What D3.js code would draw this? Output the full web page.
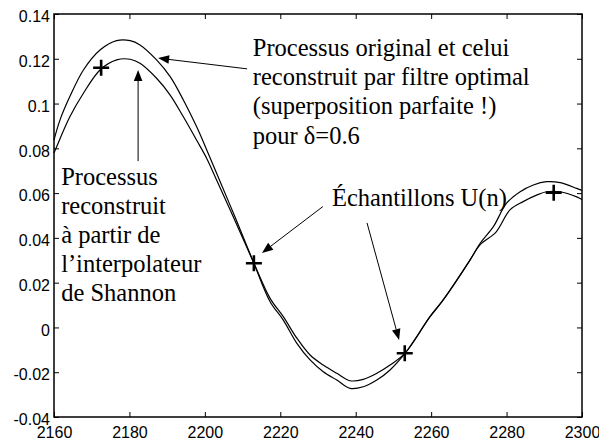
<!DOCTYPE html>
<html>
<head>
<meta charset="utf-8">
<script src="https://cdn.jsdelivr.net/npm/d3@7"></script>
<style>
  html, body { margin: 0; padding: 0; background: #fff; }
  svg { display: block; }
</style>
</head>
<body>
<svg id="chart" width="599" height="441"></svg>
<script>
// Axis ticks
const xTicks = [2160, 2180, 2200, 2220, 2240, 2260, 2280, 2300];
const yTicks = [-0.04, -0.02, 0, 0.02, 0.04, 0.06, 0.08, 0.1, 0.12, 0.14];
const yTickLabels = ["-0.04", "-0.02", "0", "0.02", "0.04", "0.06", "0.08", "0.1", "0.12", "0.14"];

// Original process (and optimal-filter reconstruction, which overlaps it)
const origX = [2160, 2161.6, 2164.2, 2167.8, 2172.2, 2176.6, 2180.2, 2182.8, 2187.2, 2190.8,
               2194.3, 2197.8, 2200.5, 2203.2, 2208.0, 2213.0, 2217.3, 2220.8, 2224.4, 2227.9,
               2231.4, 2235.0, 2238.5, 2242.0, 2245.6, 2249.1, 2253.1, 2259.7, 2263.2, 2270.3,
               2273.0, 2276.5, 2280.0, 2283.6, 2287.1, 2290.6, 2294.2, 2298.6, 2300];
const origY = [0.0837, 0.0927, 0.1031, 0.1150, 0.1239, 0.1281, 0.1281, 0.1262, 0.1195, 0.1120,
               0.1016, 0.0897, 0.0793, 0.0685, 0.0493, 0.0287, 0.0115, 0.0033, -0.0071, -0.0145,
               -0.0198, -0.0235, -0.0272, -0.0265, -0.0235, -0.0190, -0.0115, 0.0048, 0.0123, 0.0301,
               0.0376, 0.0450, 0.0555, 0.0606, 0.0636, 0.0651, 0.0647, 0.0621, 0.0612];

// Reconstruction from the Shannon interpolator
const shanX = [2160, 2160.7, 2164.2, 2167.8, 2172.2, 2176.6, 2180.2, 2182.8, 2187.2, 2190.8,
               2194.3, 2197.8, 2200.5, 2203.2, 2208.0, 2213.0, 2217.3, 2220.8, 2224.4, 2227.9,
               2231.4, 2235.0, 2238.5, 2242.0, 2245.6, 2249.1, 2253.1, 2259.7, 2263.2, 2270.3,
               2273.0, 2277.2, 2280.9, 2284.4, 2288.1, 2290.6, 2294.2, 2298.6, 2300];
const shanY = [0.0779, 0.0807, 0.0941, 0.1046, 0.1150, 0.1195, 0.1198, 0.1180, 0.1113, 0.1038,
               0.0941, 0.0837, 0.0755, 0.0655, 0.0477, 0.0287, 0.0130, 0.0048, -0.0048, -0.0123,
               -0.0168, -0.0205, -0.0238, -0.0232, -0.0205, -0.0168, -0.0115, 0.0048, 0.0123, 0.0301,
               0.0370, 0.0426, 0.0525, 0.0562, 0.0592, 0.0606, 0.0606, 0.0583, 0.0571];

// Samples U(n)
const sampleX = [2172.5, 2213, 2253, 2292.5];
const sampleY = [0.116, 0.0287, -0.0115, 0.0602];

const SANS = '"Liberation Sans", monospace';
const SERIF = '"Liberation Serif", monospace';

const svg = d3.select("#chart");
const margin = { left: 54, right: 17, top: 14, bottom: 24 };
const W = 599, H = 441;

const x = d3.scaleLinear().domain([2160, 2300]).range([margin.left, W - margin.right]);
const y = d3.scaleLinear().domain([-0.04, 0.14]).range([H - margin.bottom, margin.top]);

// Axes with inward ticks on all four sides
const tickLen = 5;
const gx = svg.append("g").attr("transform", `translate(0,${y.range()[0]})`)
  .call(d3.axisBottom(x).tickValues(xTicks).tickFormat(d3.format("d")).tickSizeInner(-tickLen).tickSizeOuter(0).tickPadding(9.5));
const gxt = svg.append("g").attr("transform", `translate(0,${y.range()[1]})`)
  .call(d3.axisTop(x).tickValues(xTicks).tickFormat("").tickSizeInner(-tickLen).tickSizeOuter(0));
const gy = svg.append("g").attr("transform", `translate(${x.range()[0]},0)`)
  .call(d3.axisLeft(y).tickValues(yTicks).tickFormat((d, i) => yTickLabels[i]).tickSizeInner(-tickLen).tickSizeOuter(0).tickPadding(4));
const gyr = svg.append("g").attr("transform", `translate(${x.range()[1]},0)`)
  .call(d3.axisRight(y).tickValues(yTicks).tickFormat("").tickSizeInner(-tickLen).tickSizeOuter(0));

[gx, gxt, gy, gyr].forEach(g => {
  g.attr("font-family", null).attr("font-size", null);
  g.select(".domain").remove();
  g.selectAll(".tick line").attr("stroke", "#000").attr("stroke-width", 1);
  g.selectAll(".tick text").attr("fill", "#000").attr("font-family", SANS).attr("font-size", 16);
});
gy.selectAll(".tick text").attr("dy", "0.48em");

// Frame
svg.append("rect")
  .attr("x", x.range()[0]).attr("y", y.range()[1])
  .attr("width", x.range()[1] - x.range()[0])
  .attr("height", y.range()[0] - y.range()[1])
  .attr("fill", "none").attr("stroke", "#000").attr("stroke-width", 1.5);

// Curves
const line = d3.line().x(d => x(d[0])).y(d => y(d[1])).curve(d3.curveCatmullRom.alpha(0.5));
const orig = origX.map((v, i) => [v, origY[i]]);
const shan = shanX.map((v, i) => [v, shanY[i]]);
svg.append("path").datum(orig).attr("d", line)
  .attr("fill", "none").attr("stroke", "#000").attr("stroke-width", 1.2);
svg.append("path").datum(shan).attr("d", line)
  .attr("fill", "none").attr("stroke", "#000").attr("stroke-width", 1.2);

// Sample crosses
const cs = 8;
svg.append("g").selectAll("path").data(sampleX.map((v, i) => [v, sampleY[i]])).join("path")
  .attr("d", d => {
    const px = x(d[0]), py = y(d[1]);
    return `M${px - cs},${py}H${px + cs}M${px},${py - cs}V${py + cs}`;
  })
  .attr("stroke", "#000").attr("stroke-width", 2.6).attr("fill", "none");

// Annotation arrows: [tailX, tailY, tipX, tipY] in data units
const arrows = [
  [2211.2, 0.1155, 2187.6, 0.1203],
  [2182.3, 0.0743, 2182.3, 0.1150],
  [2231.3, 0.0540, 2215.15, 0.0333],
  [2243.0, 0.0467, 2251.5, -0.0056]
];
const headLen = 11, headHalf = 4.3;
const ag = svg.append("g");
arrows.forEach(a => {
  const x0 = x(a[0]), y0 = y(a[1]), x1 = x(a[2]), y1 = y(a[3]);
  const dx = x1 - x0, dy = y1 - y0, L = Math.hypot(dx, dy);
  const ux = dx / L, uy = dy / L;
  const bx = x1 - ux * headLen, by = y1 - uy * headLen;
  ag.append("line").attr("x1", x0).attr("y1", y0).attr("x2", bx).attr("y2", by)
    .attr("stroke", "#000").attr("stroke-width", 1);
  ag.append("path")
    .attr("d", `M${x1},${y1}L${bx - uy * headHalf},${by + ux * headHalf}L${bx + uy * headHalf},${by - ux * headHalf}Z`)
    .attr("fill", "#000");
});

// Text notes, one text element per line (anchor = first baseline, in data units)
const notes = [
  { x: 2212.7, y: 0.1213, step: 29.3, lines: ["Processus original et celui", "reconstruit par filtre optimal", "(superposition parfaite !)", "pour δ=0.6"] },
  { x: 2161.9, y: 0.0636, step: 29, lines: ["Processus", "reconstruit", "à partir de", "l’interpolateur", "de Shannon"] },
  { x: 2233.7, y: 0.0544, step: 0, lines: ["Échantillons U(n)"] }
];
notes.forEach(n => {
  n.lines.forEach((s, i) => {
    svg.append("text")
      .attr("font-family", SERIF).attr("font-size", 24.5)
      .attr("fill", "#000")
      .attr("x", x(n.x)).attr("y", y(n.y) + i * n.step)
      .text(s);
  });
});
</script>
</body>
</html>
